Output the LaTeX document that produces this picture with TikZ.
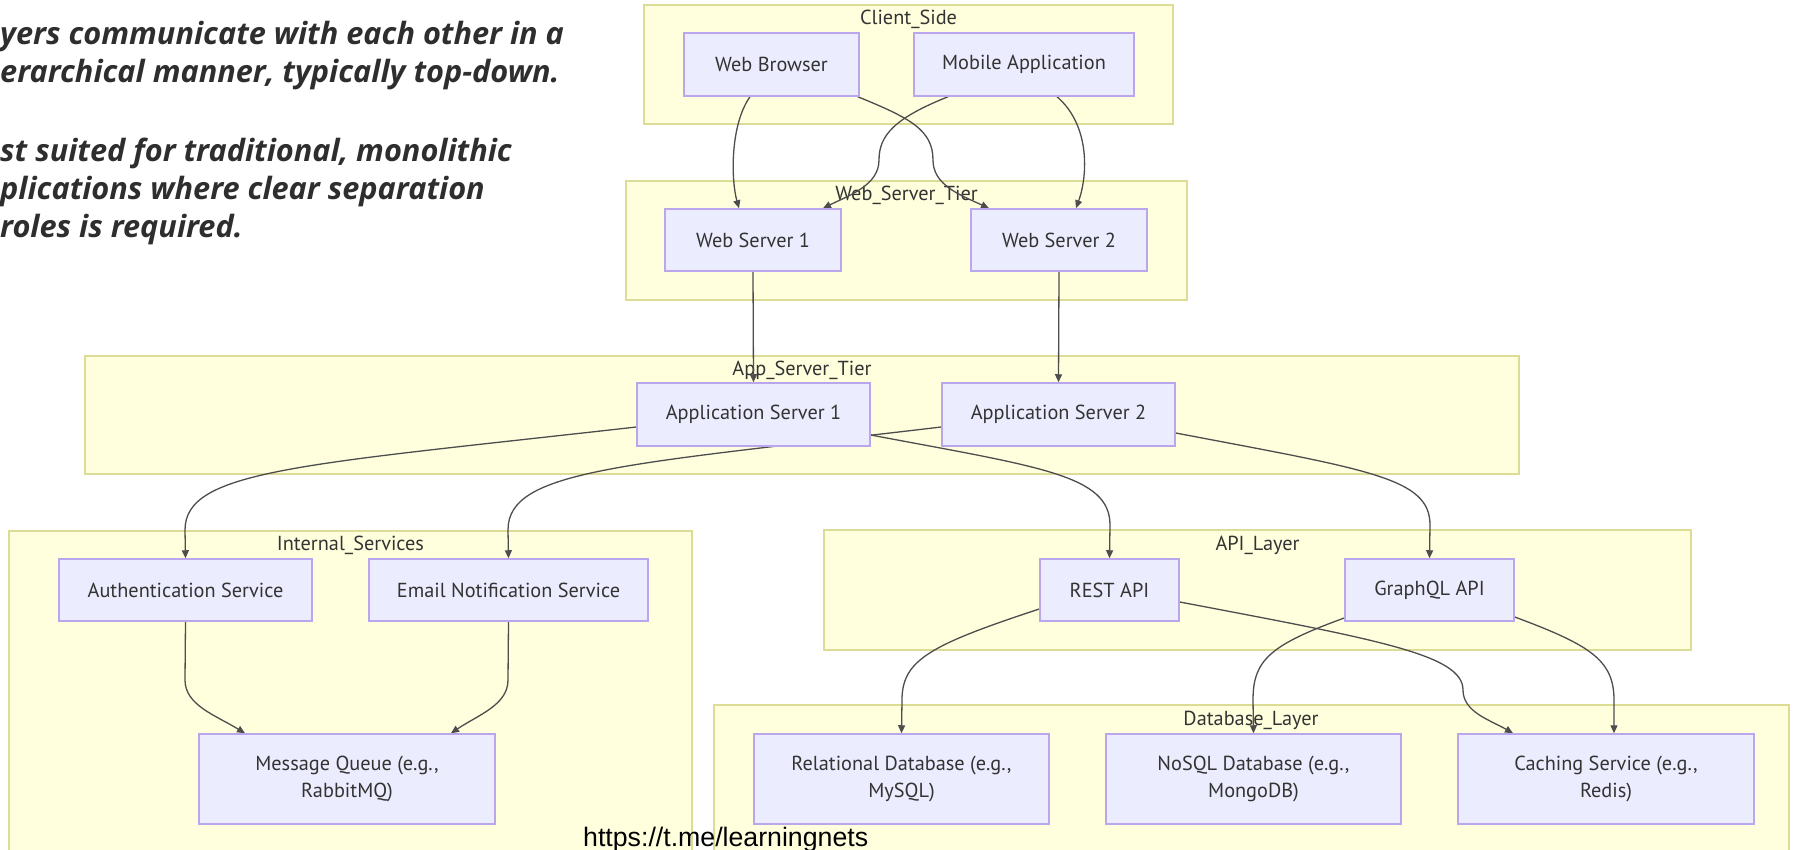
\documentclass[tikz,border=0pt]{standalone}
\usepackage{fontspec}
\setmainfont{PT Sans}
\newfontfamily\notefont{Open Sans}
\newfontfamily\markfont{Liberation Sans}
\usetikzlibrary{arrows.meta}

\definecolor{clusterfill}{HTML}{FFFFDE}
\definecolor{clusterline}{HTML}{DCDC96}
\definecolor{nodefill}{HTML}{ECECFF}
\definecolor{nodeline}{HTML}{B9A6EC}
\definecolor{edgecol}{HTML}{4D4D4D}
\definecolor{textcol}{HTML}{333333}
\definecolor{notecol}{HTML}{2E2E2E}

\pgfdeclarelayer{back}
\pgfdeclarelayer{mid}
\pgfsetlayers{back,mid,main}

\begin{document}
\begin{tikzpicture}[x=1pt,y=-1pt,
  cluster/.style={draw=clusterline, fill=clusterfill, line width=1.5pt},
  clusterlabel/.style={text=textcol, font=\fontsize{20.3}{24}\selectfont, inner sep=0pt},
  svc/.style={draw=nodeline, fill=nodefill, line width=1.5pt, text=textcol,
    font=\fontsize{20.3}{27}\selectfont, align=center, inner sep=0pt},
  flow/.style={draw=edgecol, line width=1.3pt, -{Triangle[length=8pt,width=7pt]}},
  note/.style={text=notecol, inner sep=0pt, anchor=base west,
    font={\notefont\fontsize{30.7}{34}\selectfont\bfseries\itshape}},
]
\useasboundingbox (0,0) rectangle (1794,850);

% explanatory text
\node[note] (n1) at (0,45)  {yers communicate with each other in a};
\node[note] (n2) at (0,83)  {erarchical manner, typically top-down.};
\node[note] (n3) at (0,162) {st suited for traditional, monolithic};
\node[note] (n4) at (0,200) {plications where clear separation};
\node[note] (n5) at (0,238) {roles is required.};

% subgraph frames
\begin{pgfonlayer}{back}
  \draw[cluster] (644,5) rectangle (1173,124);
  \node[clusterlabel] (lclient) at (908.5,19) {Client\_Side};
  \draw[cluster] (626,181) rectangle (1187,300);
  \node[clusterlabel] (lweb) at (906.5,195) {Web\_Server\_Tier};
  \draw[cluster] (85,356) rectangle (1519,474);
  \node[clusterlabel] (lapp) at (802,370) {App\_Server\_Tier};
  \draw[cluster] (9,531) rectangle (692,880);
  \node[clusterlabel] (lint) at (350.5,545) {Internal\_Services};
  \draw[cluster] (824,530) rectangle (1691,650);
  \node[clusterlabel] (lapi) at (1257.5,545) {API\_Layer};
  \draw[cluster] (714,705) rectangle (1789,880);
  \node[clusterlabel] (ldb) at (1251,720) {Database\_Layer};
\end{pgfonlayer}

% components
\node[svc, minimum width=175pt, minimum height=63pt] (wb)    at (771.5,64.5) {Web Browser};
\node[svc, minimum width=220pt, minimum height=63pt] (ma)    at (1024,64.5)  {Mobile Application};
\node[svc, minimum width=176pt, minimum height=62pt] (ws1)   at (753,240)    {Web Server 1};
\node[svc, minimum width=176pt, minimum height=62pt] (ws2)   at (1059,240)   {Web Server 2};
\node[svc, minimum width=233pt, minimum height=63pt] (as1)   at (753.5,414.5) {Application Server 1};
\node[svc, minimum width=233pt, minimum height=63pt] (as2)   at (1058.5,414.5) {Application Server 2};
\node[svc, minimum width=253pt, minimum height=62pt] (auth)  at (185.5,590)  {Authentication Service};
\node[svc, minimum width=279pt, minimum height=62pt] (email) at (508.5,590)  {Email Notification Service};
\node[svc, minimum width=296pt, minimum height=90pt] (mq)    at (347,779)    {Message Queue (e.g.,\\RabbitMQ)};
\node[svc, minimum width=139pt, minimum height=62pt] (rest)  at (1109.5,590) {REST API};
\node[svc, minimum width=169pt, minimum height=62pt] (gql)   at (1429.5,590) {GraphQL API};
\node[svc, minimum width=295pt, minimum height=90pt] (rdb)   at (901.5,779)  {Relational Database (e.g.,\\MySQL)};
\node[svc, minimum width=295pt, minimum height=90pt] (nosql) at (1253.5,779) {NoSQL Database (e.g.,\\MongoDB)};
\node[svc, minimum width=296pt, minimum height=90pt] (cache) at (1606,779)   {Caching Service (e.g.,\\Redis)};

% connectors
\begin{pgfonlayer}{mid}
  \draw[flow] ([xshift=-21.5pt]wb.south) .. controls (730,125) and (731,180) .. ([xshift=-14pt]ws1.north);
  \draw[flow] ([xshift=-2pt]wb.south east) .. controls (910,118) and (933,130) .. (933,160)
              .. controls (933,185) and (960,195) .. ([xshift=-70pt]ws2.north);
  \draw[flow] ([xshift=-76pt]ma.south) .. controls (895,118) and (879,135) .. (879,160)
              .. controls (879,185) and (850,195) .. ([xshift=70pt]ws1.north);
  \draw[flow] ([xshift=33pt]ma.south) .. controls (1090,125) and (1088,175) .. ([xshift=17pt]ws2.north);

  \draw[flow] (ws1.south) -- (as1.north);
  \draw[flow] (ws2.south) -- (as2.north);

  \draw[flow] ([yshift=-12.5pt]as1.west) .. controls (300,465) and (185,470) .. (185,530) -- (auth.north);
  \draw[flow] ([yshift=-12.5pt]as2.west) .. controls (620,465) and (508,470) .. (508,530) -- (email.north);
  \draw[flow] ([yshift=-20.5pt]as1.east) .. controls (1040,467) and (1110,475) .. (1110,525) -- (rest.north);
  \draw[flow] ([yshift=-18.5pt]as2.east) .. controls (1370,470) and (1430,478) .. (1430,525) -- (gql.north);

  \draw[flow] (auth.south) -- (185,680) .. controls (185,705) and (215,715) .. ([xshift=-102pt]mq.north);
  \draw[flow] (email.south) -- (508,680) .. controls (508,705) and (478,715) .. ([xshift=104pt]mq.north);

  \draw[flow] ([yshift=-19pt]rest.west) .. controls (930,645) and (902,660) .. (902,700) -- (rdb.north);
  \draw[flow] ([yshift=-12pt]rest.east) .. controls (1380,640) and (1463,655) .. (1463,690)
              .. controls (1463,712) and (1490,720) .. ([xshift=-93pt]cache.north);
  \draw[flow] ([yshift=-28pt]gql.west) .. controls (1270,645) and (1253,660) .. (1253,700) -- (nosql.north);
  \draw[flow] ([yshift=-27pt]gql.east) .. controls (1590,645) and (1614,660) .. (1614,700) -- ([xshift=8pt]cache.north);
\end{pgfonlayer}

% link line at the foot
\node[inner sep=0pt, anchor=base west, font={\markfont\fontsize{26.7}{30}\selectfont}] (wm)
  at (583,846) {https://t.me/learningnets};
\end{tikzpicture}
\end{document}
